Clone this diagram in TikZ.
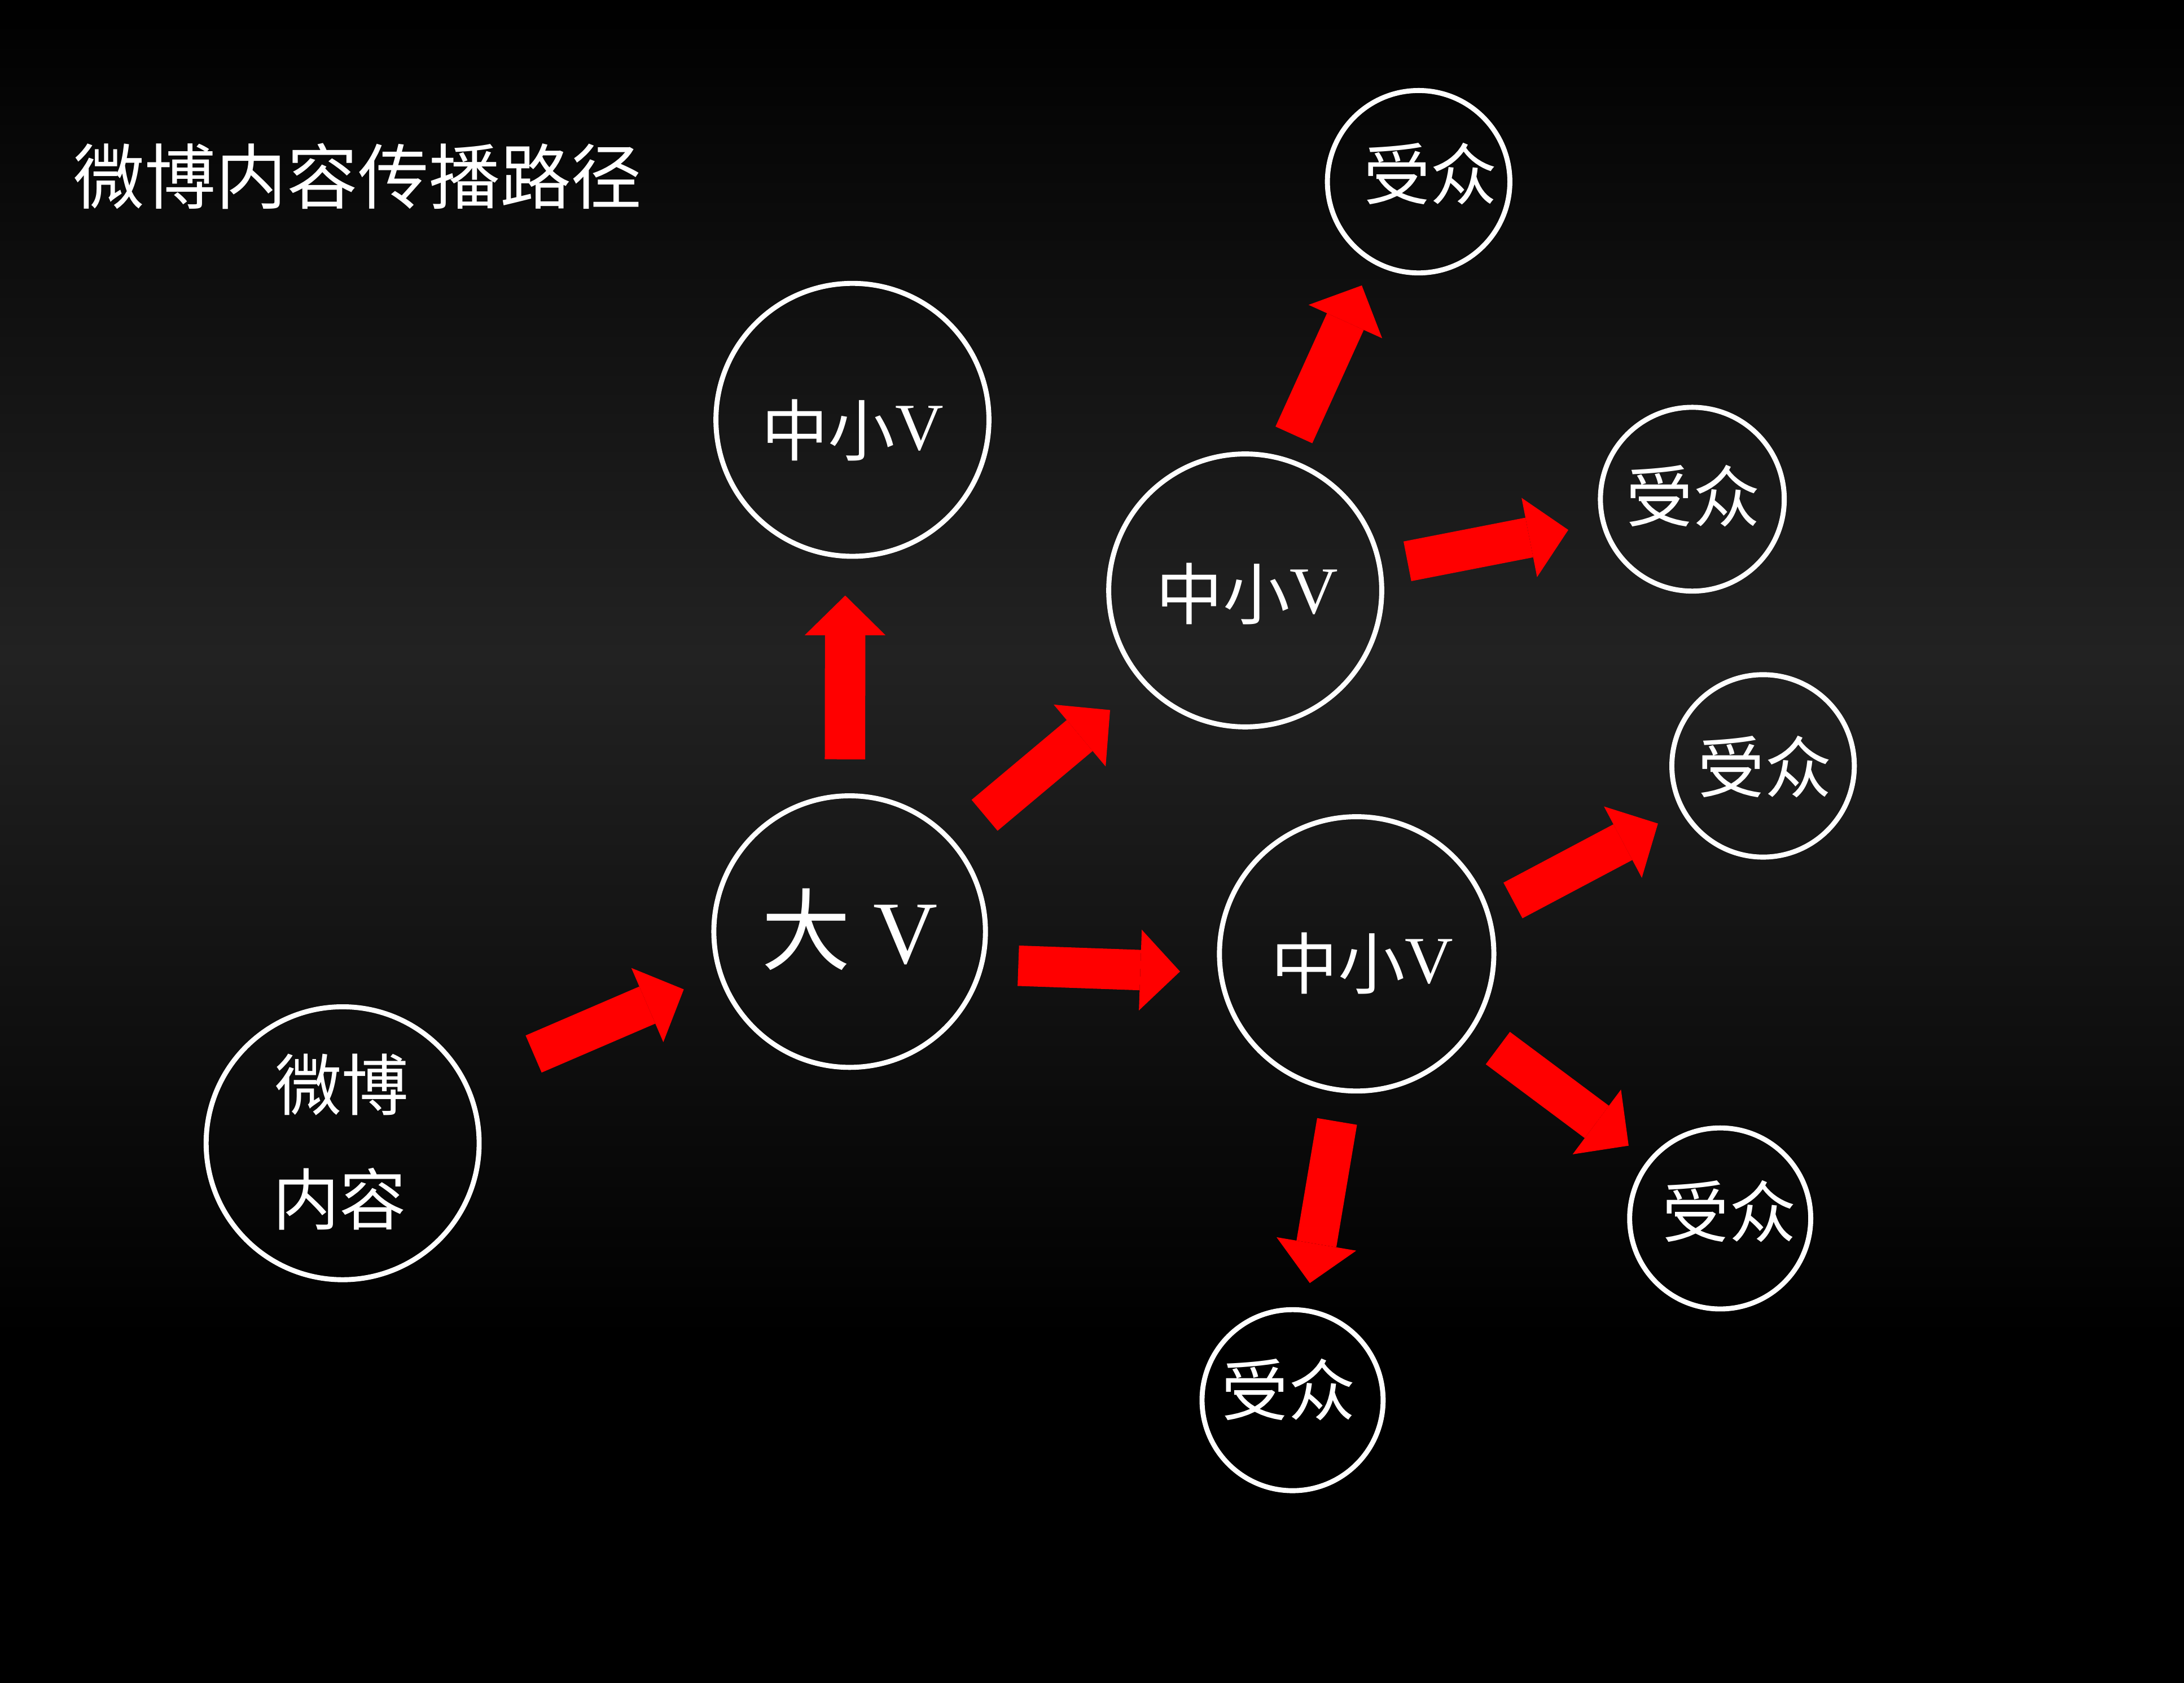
\documentclass[tikz,border=0pt]{standalone}
\usepackage{fontspec}
\setmainfont{Liberation Serif}
\newfontfamily\cjk{Noto Sans CJK SC}
\usetikzlibrary{arrows.meta}
\definecolor{bgmid}{RGB}{34,34,34}
\definecolor{arrred}{RGB}{255,0,0}
\begin{document}
\begin{tikzpicture}[x=1pt,y=-1pt,
  circ/.style={circle, draw=white, line width=3.6pt, inner sep=0pt, outer sep=0pt},
  bigc/.style={circ, minimum size=196pt},
  smallc/.style={circ, minimum size=131pt},
  lbl/.style={text=white, inner sep=0pt, outer sep=0pt, anchor=base},
  midf/.style={font=\fontsize{48}{56}\selectfont},
  redarrow/.style={draw=arrred, line width=29pt,
    -{Triangle[width=58pt,length=28.5pt,line width=0pt]}}
]
\useasboundingbox (0,0) rectangle (1568,1208.6);
% background
\fill[black] (0,0) rectangle (1568,1208.6);
\shade[top color=black, bottom color=bgmid] (0,0) rectangle (1568,470);
\shade[top color=bgmid, bottom color=black] (0,470) rectangle (1568,960);

% title
\node[lbl, anchor=base west, font=\cjk\fontsize{51}{60}\selectfont] (title) at (53,146) {微博内容传播路径};

% circles
\node[bigc] (w) at (246,821) {};
\node[circ, minimum size=195pt] (big) at (610,669) {};
\node[bigc] (m1) at (612,301.5) {};
\node[bigc] (m2) at (894,424) {};
\node[circ, minimum size=197pt] (m3) at (974,685) {};
\node[smallc] (a1) at (1018.5,130.5) {};
\node[circ, minimum size=132pt] (a2) at (1215,358.5) {};
\node[smallc] (a3) at (1265.8,550) {};
\node[circ, minimum size=130pt] (a4) at (1235,875) {};
\node[circ, minimum size=130pt] (a5) at (928,1005.5) {};

% labels
\node[lbl, midf] (wt1) at (245.5,797) {\cjk 微博};
\node[lbl, midf] (wt2) at (243.7,879.4) {\cjk 内容};
\node[lbl, font=\fontsize{64}{72}\selectfont] (bigt) at (610,692) {{\cjk 大} V};
\node[lbl, midf] (m1t) at (612,323) {\raisebox{-4pt}{\cjk 中小}V};
\node[lbl, midf] (m2t) at (895.4,440.5) {\raisebox{-4pt}{\cjk 中小}V};
\node[lbl, midf] (m3t) at (978,706) {\raisebox{-4pt}{\cjk 中小}V};
\node[lbl, midf] (a1t) at (1027,143.2) {\cjk 受众};
\node[lbl, midf] (a2t) at (1215.6,374.5) {\cjk 受众};
\node[lbl, midf] (a3t) at (1267,569.2) {\cjk 受众};
\node[lbl, midf] (a4t) at (1241.5,888.2) {\cjk 受众};
\node[lbl, midf] (a5t) at (925,1016.2) {\cjk 受众};

% arrows
\draw[redarrow, shorten <=53.4pt, shorten >=28.7pt] (w.26) -- (big.198);
\draw[redarrow, shorten <=26.3pt, shorten >=28.3pt] (big.92) -- (m1.267);
\draw[redarrow, shorten <=30.4pt, shorten >=31.6pt] (big.41) -- (m2.222);
\draw[redarrow, shorten <=26.5pt, shorten >=29.3pt] (big.346) -- (m3.188);
\draw[redarrow, shorten <=19.2pt, shorten >=19.5pt] (m2.74) -- (a1.240);
\draw[redarrow, shorten <=20.3pt, shorten >=25.8pt] (m2.10) -- (a2.195);
\draw[redarrow, shorten <=20.4pt, shorten >=20.6pt] (m3.17) -- (a3.209);
\draw[redarrow, shorten <=23.4pt, shorten >=19pt] (m3.327) -- (a4.141);
\draw[redarrow, shorten <=22.7pt, shorten >=20pt] (m3.264) -- (a5.82);
\end{tikzpicture}
\end{document}
